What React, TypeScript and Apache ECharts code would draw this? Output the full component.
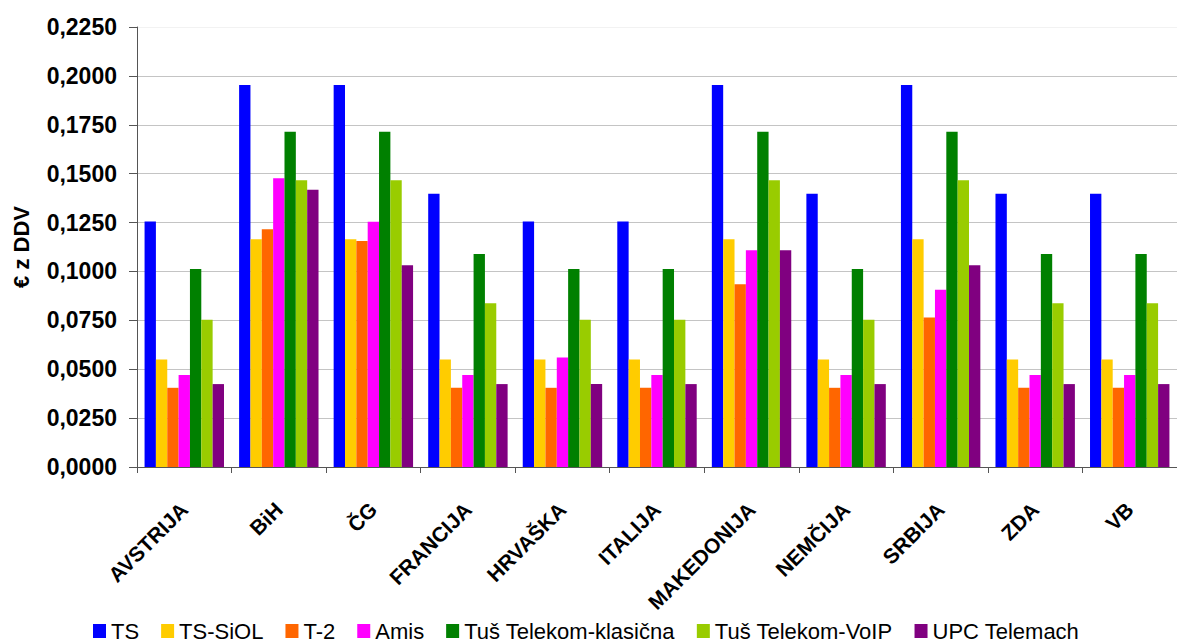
import React, { useEffect, useRef } from "react";
import * as echarts from "echarts";

const categories = ["AVSTRIJA", "BiH", "ČG", "FRANCIJA", "HRVAŠKA", "ITALIJA", "MAKEDONIJA", "NEMČIJA", "SRBIJA", "ZDA", "VB"];

const seriesNames = ["TS", "TS-SiOL", "T-2", "Amis", "Tuš Telekom-klasična", "Tuš Telekom-VoIP", "UPC Telemach"];
const seriesColors = ["#0000FF", "#FFCC00", "#FF6600", "#FF00FF", "#008000", "#99CC00", "#800080"];

const ts = [0.1256, 0.1954, 0.1954, 0.1397, 0.1256, 0.1256, 0.1954, 0.1397, 0.1954, 0.1397, 0.1397];
const tsSiol = [0.0550, 0.1165, 0.1165, 0.0550, 0.0550, 0.0550, 0.1165, 0.0550, 0.1165, 0.0550, 0.0550];
const t2 = [0.0405, 0.1216, 0.1156, 0.0405, 0.0405, 0.0405, 0.0935, 0.0405, 0.0764, 0.0405, 0.0405];
const amis = [0.0471, 0.1476, 0.1254, 0.0471, 0.0560, 0.0471, 0.1109, 0.0471, 0.0906, 0.0471, 0.0471];
const tusKlasicna = [0.1012, 0.1714, 0.1714, 0.1089, 0.1012, 0.1012, 0.1714, 0.1012, 0.1714, 0.1089, 0.1089];
const tusVoip = [0.0753, 0.1466, 0.1466, 0.0837, 0.0753, 0.0753, 0.1466, 0.0753, 0.1466, 0.0837, 0.0837];
const upc = [0.0424, 0.1418, 0.1032, 0.0424, 0.0424, 0.0424, 0.1109, 0.0424, 0.1032, 0.0424, 0.0424];

const seriesValues = [ts, tsSiol, t2, amis, tusKlasicna, tusVoip, upc];

const yMin = 0;
const yMax = 0.225;
const yInterval = 0.025;

export default function App() {
  const ref = useRef<HTMLDivElement>(null);

  useEffect(() => {
    if (!ref.current) return;
    const chart = echarts.init(ref.current, undefined, { renderer: "svg" });
    const font = "'Liberation Sans', Arial, sans-serif";
    const gridColors = ["#c4c4c4", "#c4c4c4", "#c4c4c4", "#c4c4c4", "#c4c4c4", "#c4c4c4", "#c4c4c4", "#c4c4c4", "#c4c4c4", "#f2f2f2"];
    chart.setOption({
      animation: false,
      backgroundColor: "#ffffff",
      textStyle: { fontFamily: font },
      grid: { left: 137, top: 27, bottom: 175, right: -10, containLabel: false },
      legend: {
        data: seriesNames,
        top: 615,
        left: 88,
        itemWidth: 13,
        itemHeight: 14,
        itemGap: 22,
        icon: "rect",
        textStyle: { fontFamily: font, fontSize: 22, color: "#000" },
      },
      xAxis: {
        type: "category",
        data: categories,
        axisLine: { lineStyle: { color: "#555", width: 1 } },
        axisTick: { show: true, length: 6, lineStyle: { color: "#555" } },
        axisLabel: {
          rotate: 45,
          margin: 39,
          interval: 0,
          fontFamily: font,
          fontSize: 21,
          fontWeight: "bold",
          color: "#000",
        },
      },
      yAxis: {
        type: "value",
        min: yMin,
        max: yMax,
        interval: yInterval,
        name: "€ z DDV",
        nameLocation: "middle",
        nameGap: 105,
        nameTextStyle: { fontFamily: font, fontSize: 22, fontWeight: "bold", color: "#000" },
        axisLine: { show: true, lineStyle: { color: "#555", width: 1 } },
        axisTick: { show: true, length: 8, lineStyle: { color: "#555" } },
        splitLine: { show: true, lineStyle: { color: gridColors, width: 1 } },
        axisLabel: {
          margin: 20,
          fontFamily: font,
          fontSize: 23,
          fontWeight: "bold",
          color: "#000",
          formatter: (v: number) => v.toFixed(4).replace(".", ","),
        },
      },
      series: seriesNames.map((name, i) => ({
        name,
        type: "bar",
        data: seriesValues[i],
        itemStyle: { color: seriesColors[i] },
        barGap: "0%",
        barCategoryGap: "16%",
      })),
    });
    return () => chart.dispose();
  }, []);

  return (
    <div
      ref={ref}
      style={{ position: "fixed", left: 0, top: 0, width: 1177, height: 642 }}
    />
  );
}
